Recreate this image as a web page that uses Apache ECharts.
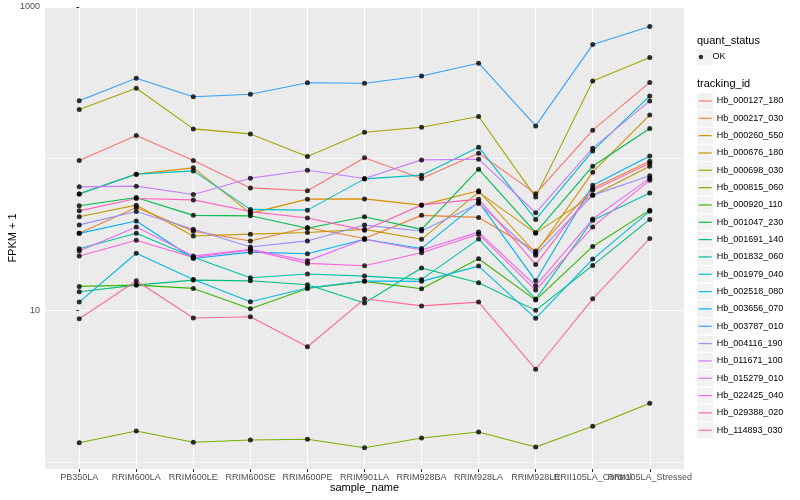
<!DOCTYPE html>
<html><head><meta charset="utf-8">
<script src="https://cdn.jsdelivr.net/npm/echarts@6/dist/echarts.min.js"></script>
<style>html,body{margin:0;padding:0;background:#fff}#c{width:800px;height:500px}</style>
</head><body><div id="c"></div>
<script>
const categories = ['PB350LA','RRIM600LA','RRIM600LE','RRIM600SE','RRIM600PE','RRIM901LA','RRIM928BA','RRIM928LA','RRIM928LE','RRII105LA_Control','RRII105LA_Stressed'];
const trackingIds = ['Hb_000127_180','Hb_000217_030','Hb_000260_550','Hb_000676_180','Hb_000698_030','Hb_000815_060','Hb_000920_110','Hb_001047_230','Hb_001691_140','Hb_001832_060','Hb_001979_040','Hb_002518_080','Hb_003656_070','Hb_003787_010','Hb_004116_190','Hb_011671_100','Hb_015279_010','Hb_022425_040','Hb_029388_020','Hb_114893_030'];
const colors = ['#F8766D','#EA8331','#D89000','#C09B00','#A3A500','#7CAE00','#39B600','#00BB4E','#00BF7D','#00C1A3','#00BFC4','#00BAE0','#00B0F6','#35A2FF','#9590FF','#C77CFF','#E76BF3','#FA62DB','#FF62BC','#FF6C91'];
const yLabelValues = [10, 1000];
const yGridMinor = [1, 100];

// FPKM + 1 values per tracking_id, in category order
const hb_000127_180 = [97.3, 142.2, 97.3, 64.2, 61.4, 101.5, 74.1, 108.7, 58.8, 154.1, 318.2];
const hb_000217_030 = [32.2, 47.7, 33.3, 28.7, 35.2, 29.8, 42.3, 41.0, 24.6, 63.9, 96.3];
const hb_000260_550 = [58.6, 79.1, 87.0, 43.6, 54.1, 54.3, 49.4, 61.4, 23.8, 81.5, 194.4];
const hb_000676_180 = [41.4, 49.4, 30.9, 31.8, 32.6, 34.2, 29.4, 60.2, 32.3, 57.5, 89.2];
const hb_000698_030 = [210.9, 291.3, 157.2, 145.7, 103.5, 149.5, 161.3, 189.7, 55.8, 325.5, 464.2];
const hb_000815_060 = [1.342, 1.603, 1.350, 1.398, 1.413, 1.244, 1.441, 1.579, 1.257, 1.721, 2.439];
const hb_000920_110 = [14.39, 14.68, 13.96, 10.25, 13.96, 15.53, 13.88, 21.88, 11.69, 26.4, 45.8];
const hb_001047_230 = [48.9, 55.5, 42.3, 42.0, 34.8, 41.4, 34.2, 85.3, 32.6, 89.2, 158.1];
const hb_001691_140 = [13.26, 14.68, 15.83, 15.66, 14.75, 11.20, 19.0, 15.20, 10.0, 19.79, 39.8];
const hb_001832_060 = [25.5, 32.2, 22.4, 16.40, 17.35, 16.83, 16.0, 29.5, 11.87, 39.3, 59.5];
const hb_001979_040 = [58.6, 79.1, 83.1, 46.3, 45.8, 73.6, 77.9, 119.1, 39.8, 112.5, 259.3];
const hb_002518_080 = [11.34, 23.8, 16.0, 11.39, 14.03, 15.60, 15.53, 19.58, 8.86, 21.78, 45.1];
const hb_003656_070 = [32.2, 38.8, 22.0, 24.2, 23.6, 29.4, 25.6, 51.9, 15.66, 66.9, 104.3];
const hb_003787_010 = [241.1, 339.1, 256.1, 266.0, 316.7, 314.3, 351.1, 425.8, 164.5, 565.3, 742.7];
const hb_004116_190 = [36.6, 44.9, 34.3, 26.2, 28.7, 36.5, 33.4, 50.7, 23.1, 57.5, 77.3];
const hb_011671_100 = [65.2, 65.9, 58.1, 74.4, 84.0, 74.1, 98.2, 99.2, 44.0, 117.3, 240.4];
const hb_015279_010 = [24.6, 35.4, 22.8, 25.3, 21.2, 29.4, 25.0, 32.8, 14.52, 40.0, 74.4];
const hb_022425_040 = [22.8, 29.0, 22.3, 25.0, 20.4, 19.7, 24.0, 31.8, 13.6, 35.5, 72.2];
const hb_029388_020 = [45.3, 54.7, 53.5, 44.8, 40.6, 33.8, 49.6, 54.1, 20.1, 62.0, 93.4];
const hb_114893_030 = [8.81, 15.66, 8.90, 9.08, 5.76, 11.92, 10.7, 11.34, 4.09, 11.92, 29.8];

const seriesValues = [hb_000127_180, hb_000217_030, hb_000260_550, hb_000676_180, hb_000698_030, hb_000815_060, hb_000920_110, hb_001047_230, hb_001691_140, hb_001832_060, hb_001979_040, hb_002518_080, hb_003656_070, hb_003787_010, hb_004116_190, hb_011671_100, hb_015279_010, hb_022425_040, hb_029388_020, hb_114893_030];

const FONT = 'Liberation Sans, Arial, Helvetica, sans-serif';
const catIdx = categories.map((_, i) => i);
const evenIdx = catIdx.filter(i => i % 2 === 0);
const oddIdx = catIdx.filter(i => i % 2 === 1);

const series = seriesValues.map((vals, k) => ({
  name: trackingIds[k],
  type: 'line',
  data: vals.map((v, i) => [i, v]),
  showSymbol: false,
  symbol: 'none',
  lineStyle: { width: 1.1, color: colors[k] },
  itemStyle: { color: colors[k] },
  z: 2,
  silent: true
}));
const okPoints = [];
seriesValues.forEach(vals => vals.forEach((v, i) => okPoints.push([i, v])));
series.push({
  name: 'OK', type: 'scatter', data: okPoints, symbol: 'circle', symbolSize: 5,
  itemStyle: { color: '#000' }, z: 3, silent: true
});

const legendTop = 92.3, legendStep = 17.33;
const keyBoxes = trackingIds.map((_, k) => ({
  type: 'rect', left: 697, top: legendTop + k * legendStep + 0.67, z: 0,
  shape: { width: 16, height: 16 }, style: { fill: '#F2F2F2' }, silent: true
}));
keyBoxes.push({ type: 'rect', left: 697, top: 49, shape: { width: 16, height: 16 }, style: { fill: '#F2F2F2' }, silent: true });

const xLabel = { formatter: v => categories[Math.round(v)], fontFamily: FONT, fontSize: 9, color: '#4D4D4D', margin: 4, hideOverlap: false, interval: 0, showMinLabel: true, showMaxLabel: true };

const chart = echarts.init(document.getElementById('c'), null, { renderer: 'canvas' });
chart.setOption({
  animation: false,
  backgroundColor: '#fff',
  color: colors,
  grid: { left: 45, right: 116, top: 7, bottom: 31, show: true, backgroundColor: '#EBEBEB', borderWidth: 0, containLabel: false, outerBoundsMode: 'none' },
  xAxis: [{
    type: 'value', min: -0.6, max: 10.6, position: 'bottom',
    name: 'sample_name', nameLocation: 'middle', nameGap: 13, nameMoveOverlap: false,
    nameTextStyle: { fontFamily: FONT, fontSize: 11, color: '#000' },
    axisLine: { show: false },
    axisTick: { show: true, length: 3, lineStyle: { color: '#333', width: 1 }, customValues: catIdx },
    axisLabel: Object.assign({ customValues: evenIdx }, xLabel),
    splitLine: { show: true, lineStyle: { color: '#fff', width: 1.1 } }
  }, {
    type: 'value', min: -0.6, max: 10.6, position: 'bottom',
    axisLine: { show: false },
    axisTick: { show: false, customValues: oddIdx },
    axisLabel: Object.assign({ customValues: oddIdx }, xLabel),
    splitLine: { show: false }
  }],
  yAxis: [{
    type: 'log', logBase: 10, min: 0.9, max: 1000,
    name: 'FPKM + 1', nameLocation: 'middle', nameGap: 27, nameRotate: 90, nameMoveOverlap: false,
    nameTextStyle: { fontFamily: FONT, fontSize: 11, color: '#000' },
    axisLine: { show: false },
    axisTick: { show: true, length: 3, lineStyle: { color: '#333', width: 1 }, customValues: yLabelValues },
    axisLabel: { customValues: yLabelValues, formatter: v => String(Math.round(v)), fontFamily: FONT, fontSize: 9, color: '#4D4D4D', margin: 5, hideOverlap: false },
    splitLine: { show: true, lineStyle: { color: '#fff', width: 1.1 } }
  }, {
    type: 'log', logBase: 10, min: 0.9, max: 1000, position: 'left',
    axisLine: { show: false },
    axisTick: { show: false, customValues: yGridMinor },
    axisLabel: { show: false },
    splitLine: { show: true, lineStyle: { color: '#fff', width: 0.6 } }
  }],
  legend: [{
    data: ['OK'], orient: 'vertical', left: 698.7, top: 48.3, padding: 0,
    icon: 'circle', itemWidth: 13, itemHeight: 4.5,
    textStyle: { fontFamily: FONT, fontSize: 9, color: '#000', lineHeight: 17.33 },
    selectedMode: false
  }, {
    data: trackingIds, orient: 'vertical', left: 698.7, top: legendTop, padding: 0, itemGap: 0,
    icon: 'rect', itemWidth: 13, itemHeight: 1.2,
    textStyle: { fontFamily: FONT, fontSize: 9, color: '#000', lineHeight: 17.33 },
    selectedMode: false
  }],
  graphic: keyBoxes.concat([
    { type: 'text', left: 697, top: 35, style: { text: 'quant_status', font: '11px ' + FONT, fill: '#000' } },
    { type: 'text', left: 697, top: 78.5, style: { text: 'tracking_id', font: '11px ' + FONT, fill: '#000' } }
  ]),
  series: series
});
</script></body></html>
